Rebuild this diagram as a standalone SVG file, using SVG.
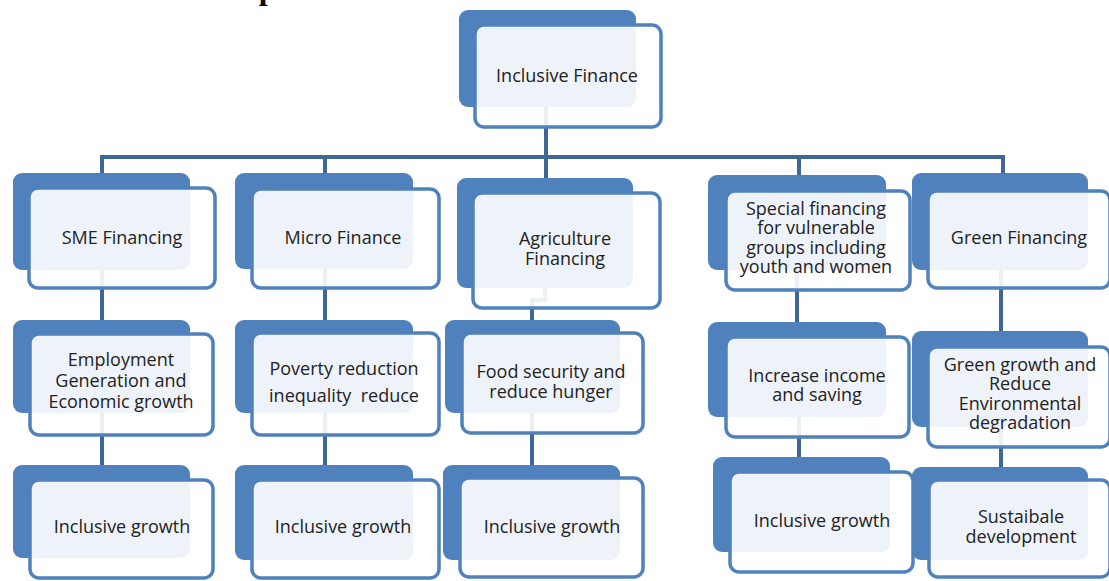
<svg xmlns="http://www.w3.org/2000/svg" width="1109" height="581" viewBox="0 0 1109 581">
  <style>
    .back { fill: #4F81BD; }
    .front { fill: #FFFFFF; fill-opacity: 0.9; stroke: #4F81BD; stroke-width: 3.5; }
    .lbl { font-family: "Open Sans", "Liberation Sans", sans-serif; font-size: 18px; fill: #222222; text-anchor: middle; }
    .wire { fill: none; stroke: #3E6797; stroke-width: 4; }
    .head { font-family: "Liberation Serif", serif; font-size: 32px; font-weight: bold; fill: #000000; }
  </style>

  <rect width="1109" height="581" fill="#FFFFFF"/>

  <!-- heading, running off the top edge -->
  <text class="head" x="0" y="-1">Sustainable Development</text>

  <!-- connectors -->
  <g id="connectors">
    <path class="wire" d="M546,107 V157"/>
    <path class="wire" d="M102,173 V157 H1003 V173"/>
    <path class="wire" d="M325,157 V173"/>
    <path class="wire" d="M546,157 V178"/>
    <path class="wire" d="M799,157 V175"/>
    <!-- SME column -->
    <path class="wire" d="M102,270 V320"/>
    <path class="wire" d="M102,413 V465"/>
    <!-- Micro column -->
    <path class="wire" d="M325,269 V320"/>
    <path class="wire" d="M325,413 V465"/>
    <!-- Agriculture column -->
    <path class="wire" d="M545,288 V300 H532 V320"/>
    <path class="wire" d="M532,413 V465"/>
    <!-- Special financing column -->
    <path class="wire" d="M797,270 V322"/>
    <path class="wire" d="M799,417 V457"/>
    <!-- Green column -->
    <path class="wire" d="M1001,270 V331"/>
    <path class="wire" d="M1001,427 V467"/>
  </g>

  <g id="inclusive-finance">
    <rect class="back" x="459" y="10" width="177" height="97" rx="9"/>
    <rect class="front" x="475" y="25" width="186" height="102" rx="9"/>
    <text class="lbl" x="567" y="82">Inclusive Finance</text>
  </g>

  <!-- row 1 -->
  <g id="sme-financing">
    <rect class="back" x="13" y="173" width="177" height="97" rx="9"/>
    <rect class="front" x="29" y="188" width="186" height="100" rx="9"/>
    <text class="lbl" x="122" y="244">SME Financing</text>
  </g>
  <g id="micro-finance">
    <rect class="back" x="235" y="173" width="178" height="96" rx="9"/>
    <rect class="front" x="252" y="189" width="187" height="99" rx="9"/>
    <text class="lbl" x="343" y="244">Micro Finance</text>
  </g>
  <g id="agriculture-financing">
    <rect class="back" x="457" y="178" width="176" height="110" rx="9"/>
    <rect class="front" x="473" y="193" width="187" height="115" rx="9"/>
    <text class="lbl" x="565" y="245">Agriculture</text>
    <text class="lbl" x="565" y="265">Financing</text>
  </g>
  <g id="special-financing">
    <rect class="back" x="708" y="175" width="178" height="95" rx="9"/>
    <rect class="front" x="726" y="191" width="184" height="99" rx="9"/>
    <text class="lbl" x="816" y="215">Special financing</text>
    <text class="lbl" x="816" y="234">for vulnerable</text>
    <text class="lbl" x="816" y="254">groups including</text>
    <text class="lbl" x="816" y="273">youth and women</text>
  </g>
  <g id="green-financing">
    <rect class="back" x="912" y="173" width="176" height="97" rx="9"/>
    <rect class="front" x="928" y="191" width="182" height="97" rx="9"/>
    <text class="lbl" x="1019" y="244">Green Financing</text>
  </g>

  <!-- row 2 -->
  <g id="employment-generation">
    <rect class="back" x="13" y="320" width="177" height="93" rx="9"/>
    <rect class="front" x="30" y="334" width="183" height="101" rx="9"/>
    <text class="lbl" x="121" y="366">Employment</text>
    <text class="lbl" x="121" y="387">Generation and</text>
    <text class="lbl" x="121" y="408">Economic growth</text>
  </g>
  <g id="poverty-reduction">
    <rect class="back" x="235" y="320" width="178" height="93" rx="9"/>
    <rect class="front" x="252" y="333" width="187" height="102" rx="9"/>
    <text class="lbl" x="344" y="375">Poverty reduction</text>
    <text class="lbl" x="344" y="402">inequality&#160; reduce</text>
  </g>
  <g id="food-security">
    <rect class="back" x="445" y="320" width="175" height="93" rx="9"/>
    <rect class="front" x="462" y="333" width="181" height="100" rx="9"/>
    <text class="lbl" x="551" y="378">Food security and</text>
    <text class="lbl" x="551" y="398">reduce hunger</text>
  </g>
  <g id="increase-income">
    <rect class="back" x="708" y="322" width="178" height="95" rx="9"/>
    <rect class="front" x="726" y="337" width="183" height="100" rx="9"/>
    <text class="lbl" x="817" y="382">Increase income</text>
    <text class="lbl" x="817" y="401">and saving</text>
  </g>
  <g id="green-growth">
    <rect class="back" x="912" y="331" width="176" height="96" rx="9"/>
    <rect class="front" x="928" y="347" width="182" height="100" rx="9"/>
    <text class="lbl" x="1020" y="371">Green growth and</text>
    <text class="lbl" x="1020" y="390">Reduce</text>
    <text class="lbl" x="1020" y="410">Environmental</text>
    <text class="lbl" x="1020" y="429">degradation</text>
  </g>

  <!-- row 3 -->
  <g id="sme-inclusive-growth">
    <rect class="back" x="13" y="465" width="177" height="93" rx="9"/>
    <rect class="front" x="30" y="480" width="183" height="98" rx="9"/>
    <text class="lbl" x="122" y="533">Inclusive growth</text>
  </g>
  <g id="micro-inclusive-growth">
    <rect class="back" x="235" y="465" width="178" height="95" rx="9"/>
    <rect class="front" x="252" y="480" width="187" height="98" rx="9"/>
    <text class="lbl" x="343" y="533">Inclusive growth</text>
  </g>
  <g id="agri-inclusive-growth">
    <rect class="back" x="443" y="465" width="177" height="95" rx="9"/>
    <rect class="front" x="460" y="478" width="183" height="99" rx="9"/>
    <text class="lbl" x="552" y="533">Inclusive growth</text>
  </g>
  <g id="special-inclusive-growth">
    <rect class="back" x="713" y="457" width="177" height="95" rx="9"/>
    <rect class="front" x="730" y="472" width="183" height="100" rx="9"/>
    <text class="lbl" x="822" y="527">Inclusive growth</text>
  </g>
  <g id="sustainable-development">
    <rect class="back" x="912" y="467" width="176" height="93" rx="9"/>
    <rect class="front" x="929" y="480" width="181" height="97" rx="9"/>
    <text class="lbl" x="1021" y="523">Sustaibale</text>
    <text class="lbl" x="1021" y="543">development</text>
  </g>
</svg>
